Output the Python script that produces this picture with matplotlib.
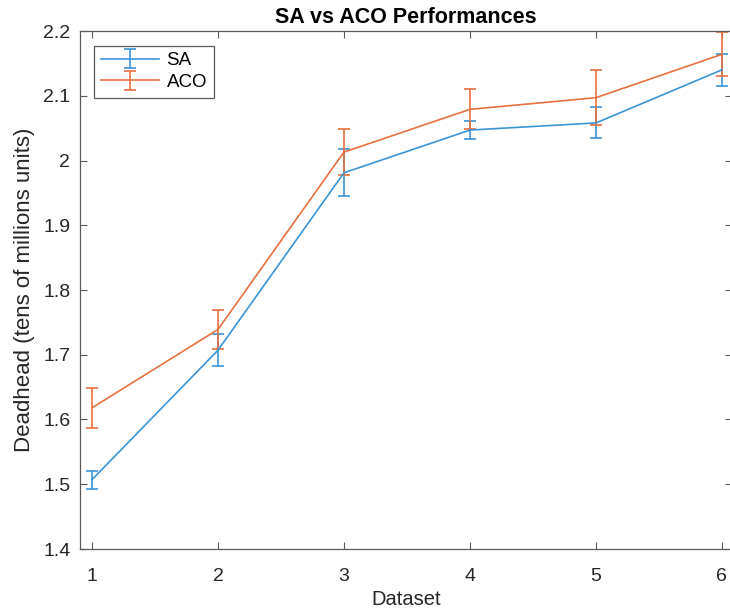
import matplotlib
matplotlib.use("Agg")
import matplotlib.pyplot as plt

plt.rcParams["font.family"] = ["Liberation Sans", "DejaVu Sans"]

datasets = [1, 2, 3, 4, 5, 6]
sa_mean = [1.507, 1.707, 1.981, 2.047, 2.058, 2.140]
sa_err = [0.014, 0.025, 0.036, 0.0145, 0.024, 0.025]
aco_mean = [1.618, 1.739, 2.013, 2.079, 2.097, 2.164]
aco_err = [0.031, 0.030, 0.035, 0.031, 0.042, 0.034]

y_ticks = [1.4, 1.5, 1.6, 1.7, 1.8, 1.9, 2.0, 2.1, 2.2]
y_tick_labels = ["1.4", "1.5", "1.6", "1.7", "1.8", "1.9", "2", "2.1", "2.2"]

blue = "#3b94d6"
orange = "#e6703f"
dark = "#262626"
spine = "#5a5a5a"

fig = plt.figure(figsize=(7.3, 6.14), dpi=100)
ax = fig.add_axes([80 / 730, 1 - 549 / 614, 652 / 730, (549 - 31) / 614])

ax.errorbar(datasets, sa_mean, yerr=sa_err, color=blue, lw=1.2,
            capsize=4, capthick=1.2, elinewidth=1.2, label="SA")
ax.errorbar(datasets, aco_mean, yerr=aco_err, color=orange, lw=1.2,
            capsize=4, capthick=1.2, elinewidth=1.2, label="ACO")

ax.set_xlim(0.905, 6.08)
ax.set_ylim(1.4, 2.2)
ax.set_xticks(datasets)
ax.set_yticks(y_ticks)
ax.set_yticklabels(y_tick_labels)
ax.tick_params(direction="in", top=True, right=True, labelsize=14,
               length=5, width=0.8, color=spine, labelcolor=dark)
ax.tick_params(axis="x", pad=14)
ax.tick_params(axis="y", pad=7)
for s in ax.spines.values():
    s.set_color(spine)
    s.set_linewidth(0.9)

ax.set_title("SA vs ACO Performances", fontsize=15.5, fontweight="bold", pad=6)
ax.set_xlabel("Dataset", fontsize=14.5, color=dark, labelpad=3)
ax.set_ylabel("Deadhead (tens of millions units)", fontsize=16, color=dark, labelpad=6)

leg = ax.legend(loc="upper left", bbox_to_anchor=(0.022, 0.972), fontsize=13.5,
                fancybox=False, framealpha=1, edgecolor=spine,
                handlelength=3.1, handletextpad=0.4, borderpad=0.35,
                labelspacing=0.25, borderaxespad=0)
leg.get_frame().set_linewidth(0.9)

fig.savefig("out.png", dpi=100)
